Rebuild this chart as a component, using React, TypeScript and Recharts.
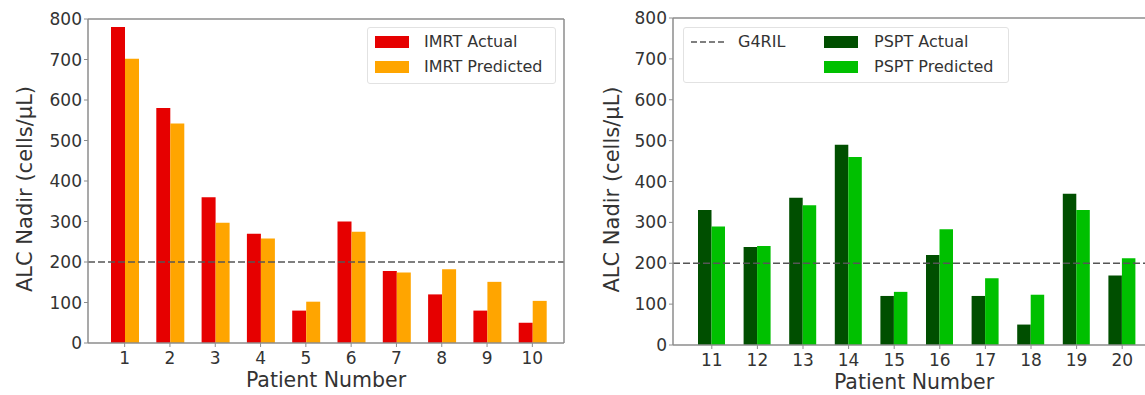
import { BarChart, Bar, XAxis, YAxis, ReferenceLine, Legend, Label } from 'recharts'

const imrtPatients = ['1', '2', '3', '4', '5', '6', '7', '8', '9', '10']
const imrtActual = [780, 580, 360, 270, 80, 300, 178, 120, 80, 50]
const imrtPredicted = [702, 542, 297, 258, 102, 275, 174, 182, 151, 104]

const psptPatients = ['11', '12', '13', '14', '15', '16', '17', '18', '19', '20']
const psptActual = [330, 240, 360, 490, 120, 220, 120, 50, 370, 170]
const psptPredicted = [290, 242, 342, 460, 130, 283, 163, 123, 330, 212]

const yTicks = [0, 100, 200, 300, 400, 500, 600, 700, 800]
const g4ril = 200

const FONT = '"DejaVu Sans", sans-serif'
const TEXT = '#333'
const FRAME = '#8c8c8c'

const imrtData = imrtPatients.map((p, i) => ({ patient: p, actual: imrtActual[i], predicted: imrtPredicted[i] }))
const psptData = psptPatients.map((p, i) => ({ patient: p, actual: psptActual[i], predicted: psptPredicted[i] }))

const yLabel = (cx: number) => (props: any) => {
  const vb = props.viewBox || { y: 18, height: 326 }
  const cy = vb.y + vb.height / 2 + 8
  return (
    <text x={cx} y={cy} transform={`rotate(-90 ${cx} ${cy})`} textAnchor="middle"
      dominantBaseline="central" fontSize={21} fill={TEXT} fontFamily={FONT}>
      ALC Nadir (cells/μL)
    </text>
  )
}

const xLabel = (props: any) => {
  const vb = props.viewBox
  return (
    <text x={vb.x + vb.width / 2} y={vb.y + 37} textAnchor="middle" dominantBaseline="central"
      fontSize={20.5} fill={TEXT} fontFamily={FONT}>
      Patient Number
    </text>
  )
}

const patch = (color: string, top: number, left: number) => (
  <span style={{ position: 'absolute', left, top: top - 6, width: 34, height: 12, background: color }} />
)
const legendText = (text: string, top: number, left: number) => (
  <span style={{ position: 'absolute', left, top: top - 10, fontSize: 16, lineHeight: '20px', color: TEXT, whiteSpace: 'nowrap' }}>{text}</span>
)

const legendBox = { position: 'relative' as const, border: '1px solid #e2e2e2', borderRadius: 3, background: 'rgba(255,255,255,0.85)', fontFamily: FONT }

const ImrtLegend = () => (
  <div style={{ ...legendBox, width: 187, height: 55 }}>
    {patch('#e60000', 14, 7)}
    {legendText('IMRT Actual', 14, 56)}
    {patch('#ffa500', 39, 7)}
    {legendText('IMRT Predicted', 39, 56)}
  </div>
)

const PsptLegend = () => (
  <div style={{ ...legendBox, width: 324, height: 54 }}>
    <svg style={{ position: 'absolute', left: 7, top: 8 }} width={34} height={12}>
      <line x1={0} x2={34} y1={6} y2={6} stroke="#555" strokeWidth={1.5} strokeDasharray="6 3" />
    </svg>
    {legendText('G4RIL', 14, 54)}
    {patch('#004f00', 14, 140)}
    {legendText('PSPT Actual', 14, 190)}
    {patch('#00c000', 39, 140)}
    {legendText('PSPT Predicted', 39, 190)}
  </div>
)

interface IPanelProps {
  data: { patient: string; actual: number; predicted: number }[]
  width: number
  top: number
  yWidth: number
  xHeight: number
  padding: { left: number; right: number }
  actualColor: string
  predictedColor: string
  barSize: number
  labelX: number
  legend: () => JSX.Element
  legendPos: { left: number; top: number }
}

const Panel = ({ data, width, top, yWidth, xHeight, padding, actualColor, predictedColor, barSize, labelX, legend, legendPos }: IPanelProps) => {
  return (
    <BarChart width={width} height={395} data={data} margin={{ top: top - 1, right: 15, left: 0, bottom: 0 }}
      barSize={barSize} barGap={0} style={{ fontFamily: FONT }}>
      <XAxis dataKey="patient" height={xHeight} padding={padding} interval={0}
        tick={{ fill: TEXT, fontSize: 17 }} tickSize={4} tickMargin={5}
        axisLine={{ stroke: FRAME, strokeWidth: 1.5 }} tickLine={{ stroke: FRAME }}>
        <Label content={xLabel} />
      </XAxis>
      {/* top and right axes only draw the frame */}
      <XAxis xAxisId="top" dataKey="patient" orientation="top" height={1} tick={false} tickLine={false}
        axisLine={{ stroke: FRAME, strokeWidth: 1.5 }} />
      <YAxis type="number" domain={[0, 800]} ticks={yTicks} interval={0} width={yWidth}
        tick={{ fill: TEXT, fontSize: 17 }} tickSize={4} tickMargin={2}
        axisLine={{ stroke: FRAME, strokeWidth: 1.5 }} tickLine={{ stroke: FRAME }}>
        <Label content={yLabel(labelX)} />
      </YAxis>
      <YAxis yAxisId="right" orientation="right" type="number" domain={[0, 800]} width={1} tick={false}
        tickLine={false} axisLine={{ stroke: FRAME, strokeWidth: 1.5 }} />
      <Bar dataKey="actual" fill={actualColor} isAnimationActive={false} />
      <Bar dataKey="predicted" fill={predictedColor} isAnimationActive={false} />
      <ReferenceLine y={g4ril} stroke="#555" strokeWidth={1.5} strokeDasharray="7 3" />
      <Legend layout="vertical" verticalAlign="middle" align="center" content={legend}
        wrapperStyle={{ left: legendPos.left, top: legendPos.top, width: 'auto', height: 'auto' }} />
    </BarChart>
  )
}

export default function App() {
  return (
    <div style={{ position: 'absolute', left: 0, top: 0, width: 1145, height: 395, overflow: 'hidden', background: '#fff' }}>
      <div style={{ position: 'absolute', left: 0, top: 0 }}>
        <Panel data={imrtData} width={580} top={19} yWidth={88} xHeight={52} padding={{ left: 14, right: 9 }}
          actualColor="#e60000" predictedColor="#ffa500" barSize={14} labelX={25}
          legend={ImrtLegend} legendPos={{ left: 367, top: 27 }} />
      </div>
      <div style={{ position: 'absolute', left: 580, top: 0 }}>
        <Panel data={psptData} width={591} top={18} yWidth={93} xHeight={50} padding={{ left: 16, right: 10 }}
          actualColor="#004f00" predictedColor="#00c000" barSize={13.5} labelX={32}
          legend={PsptLegend} legendPos={{ left: 103, top: 27 }} />
      </div>
    </div>
  )
}
